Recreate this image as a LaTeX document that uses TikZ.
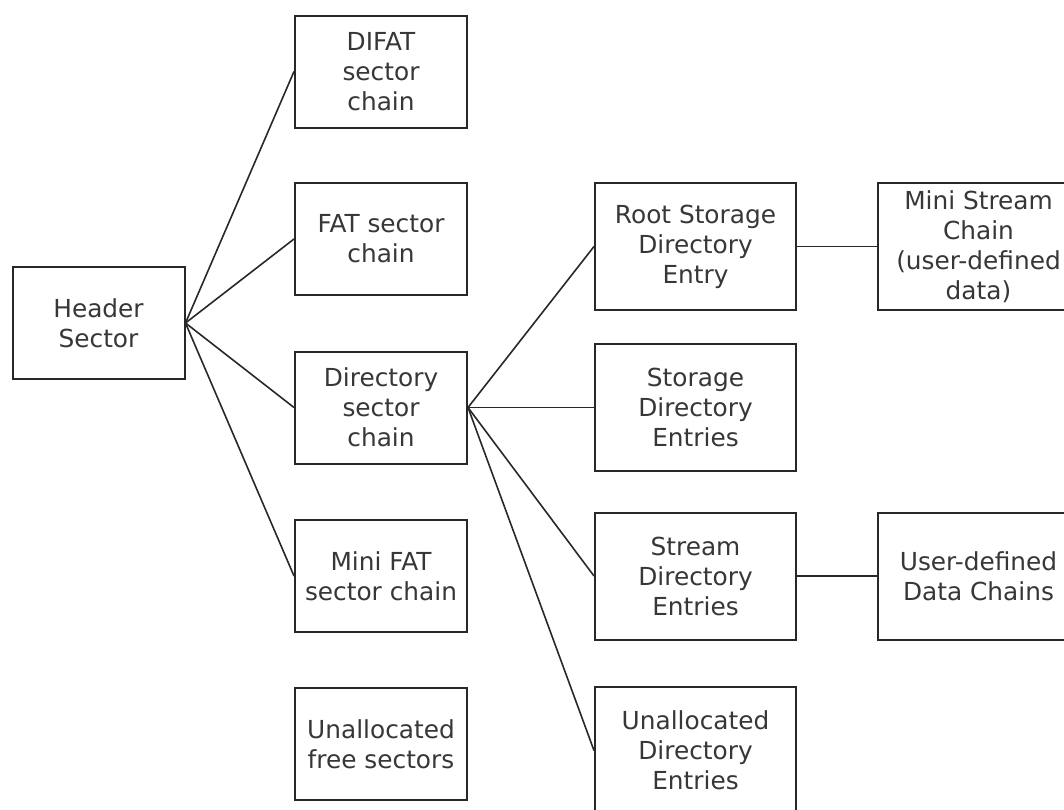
\documentclass[tikz,border=0pt]{standalone}
\usepackage{fontspec}
\setmainfont{DejaVu Sans}
\definecolor{boxline}{RGB}{40,40,40}
\definecolor{txt}{RGB}{55,55,55}
\tikzset{
  blk/.style={draw=boxline, line width=2pt, fill=white, align=center, inner sep=0pt,
    text=txt, font=\fontsize{24.8}{30}\selectfont},
  lcol/.style={blk, minimum width=172pt, minimum height=112pt},
  rcol/.style={blk, minimum width=201pt, minimum height=127pt},
  conn/.style={draw=boxline, line width=1.6pt}
}
\begin{document}
\begin{tikzpicture}[x=1pt,y=-1pt]
\useasboundingbox (0,0) rectangle (1064,809);
\clip (0,0) rectangle (1064,809);
\node[lcol] (hdr) at (98.5,323) {Header\\Sector};
\node[lcol] (difat) at (381,71.5) {DIFAT\\sector\\chain};
\node[lcol] (fat) at (381,239) {FAT sector\\chain};
\node[lcol] (dir) at (381,407.5) {Directory\\sector\\chain};
\node[lcol] (minifat) at (381,576) {Mini FAT\\sector chain};
\node[lcol] (free) at (381,744) {Unallocated\\free sectors};
\node[rcol] (root) at (695.5,246.5) {Root Storage\\Directory\\Entry};
\node[rcol] (stor) at (695.5,407.5) {Storage\\Directory\\Entries};
\node[rcol] (strm) at (695.5,576) {Stream\\Directory\\Entries};
\node[rcol] (udir) at (695.5,750.5) {Unallocated\\Directory\\Entries};
\node[rcol] (mini) at (978.5,246.5) {Mini Stream\\Chain\\(user-defined\\data)};
\node[rcol] (udata) at (978.5,576) {User-defined\\Data Chains};
\draw[conn] (hdr.east) -- (difat.west);
\draw[conn] (hdr.east) -- (fat.west);
\draw[conn] (hdr.east) -- (dir.west);
\draw[conn] (hdr.east) -- (minifat.west);
\draw[conn] (dir.east) -- (root.west);
\draw[conn] (dir.east) -- (stor.west);
\draw[conn] (dir.east) -- (strm.west);
\draw[conn] (dir.east) -- (udir.west);
\draw[conn] (root.east) -- (mini.west);
\draw[conn] (strm.east) -- (udata.west);
\end{tikzpicture}
\end{document}
